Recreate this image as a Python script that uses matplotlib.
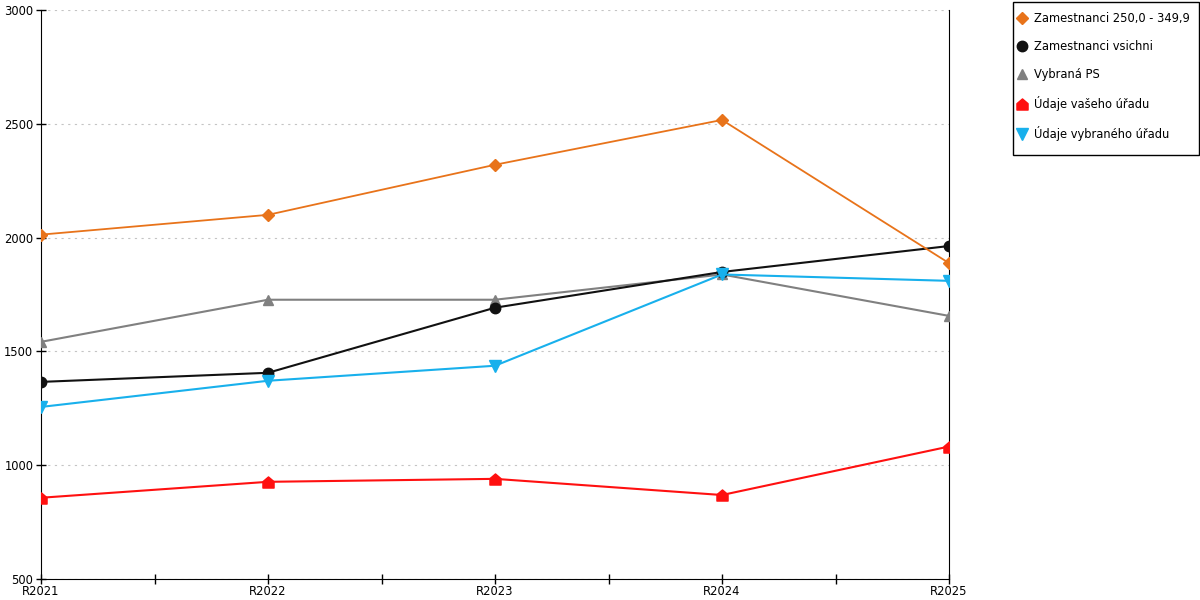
import numpy as np
import matplotlib.pyplot as plt
from matplotlib.path import Path
from matplotlib.patches import Rectangle

years = ['R2021', 'R2022', 'R2023', 'R2024', 'R2025']
zam_250 = [2013, 2100, 2320, 2517, 1888]
zam_all = [1366, 1406, 1692, 1849, 1963]
vybrana_ps = [1542, 1727, 1727, 1838, 1656]
vas_urad = [857, 927, 940, 869, 1082]
vybrany_urad = [1256, 1371, 1437, 1838, 1810]

# red "house" marker
house = Path([(-1, -1), (1, -1), (1, 0.15), (0, 1), (-1, 0.15), (-1, -1)],
             [Path.MOVETO] + [Path.LINETO] * 4 + [Path.CLOSEPOLY])

plt.rcParams['font.family'] = ['DejaVu Sans']
fig = plt.figure(figsize=(12, 6), dpi=100)
ax = fig.add_axes([41 / 1200, 21 / 600, 908 / 1200, 569 / 600])

x = np.arange(len(years))
ax.plot(x, zam_250, color='#e8731a', marker='D', ms=6.2, lw=1.3, label='Zamestnanci 250,0 - 349,9', zorder=5)
ax.plot(x, zam_all, color='#111111', marker='o', ms=7.5, lw=1.5, label='Zamestnanci vsichni', zorder=4)
ax.plot(x, vybrana_ps, color='#808080', marker='^', ms=7.5, lw=1.5, label='Vybraná PS', zorder=3)
ax.plot(x, vas_urad, color='#ff1010', marker=house, ms=8, lw=1.5, label='Údaje vašeho úřadu', zorder=3)
ax.plot(x, vybrany_urad, color='#18b0ec', marker='v', ms=8, lw=1.5, label='Údaje vybraného úřadu', zorder=4)

ax.set_xlim(0, 4)
ax.set_ylim(500, 3000)
ax.set_yticks(np.arange(500, 3001, 500))
ax.set_xticks(x)
ax.set_xticklabels(years)
ax.set_xticks(x[:-1] + 0.5, minor=True)
ax.yaxis.grid(True, linestyle=(0, (2, 4)), color='#c4c4c4', lw=0.8)
ax.set_axisbelow(True)
ax.spines['top'].set_visible(False)
ax.spines['right'].set_color('black')
ax.tick_params(axis='both', which='both', direction='inout', length=7, width=1, labelsize=8.3, pad=1)
ax.tick_params(axis='y', pad=2)

# legend box drawn separately so padding can differ horizontally / vertically
fig.patches.append(Rectangle((1013 / 1200, 1 - 155 / 600), 186 / 1200, 153 / 600,
                             transform=fig.transFigure, fill=False, edgecolor='black', lw=1))
leg = ax.legend(loc='upper left', bbox_to_anchor=(1017 / 1200, 1 - 12 / 600), bbox_transform=fig.transFigure,
                frameon=False, fontsize=8.3, labelspacing=1.3,
                handlelength=0.9, handletextpad=0.58, borderpad=0, borderaxespad=0)
for h in leg.legend_handles:
    h.set_linestyle('none')

fig.savefig('out.png', dpi=100)
